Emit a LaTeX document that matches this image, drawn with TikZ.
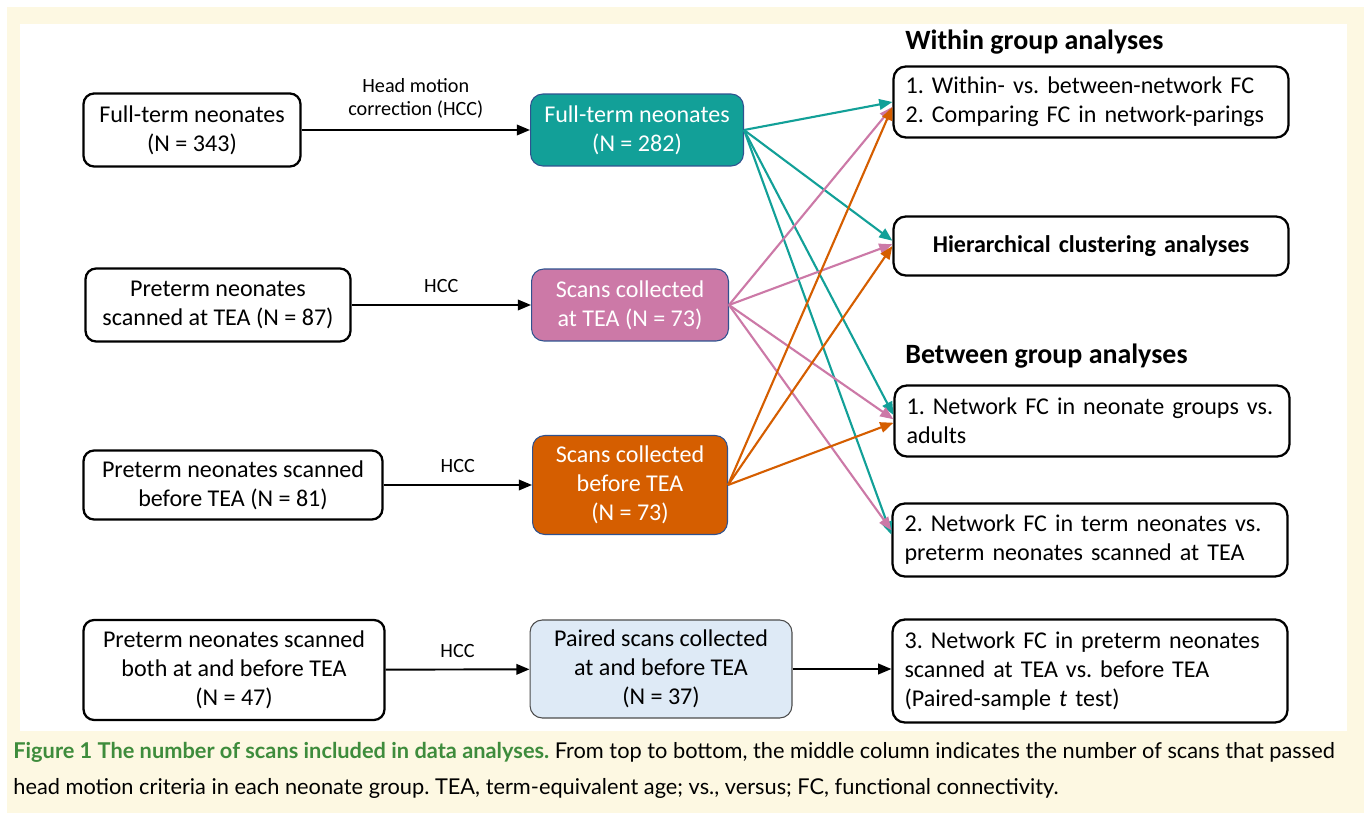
\documentclass[tikz,border=0pt]{standalone}
\usepackage{fontspec}
\setmainfont{Carlito}
\newfontfamily\captionfont{Lato}
\usetikzlibrary{arrows.meta}
\usetikzlibrary{positioning}
\frenchspacing

\definecolor{cream}{RGB}{253,248,226}
\definecolor{fullterm}{RGB}{18,160,152}
\definecolor{atTEA}{RGB}{204,121,167}
\definecolor{beforeTEA}{RGB}{213,94,0}
\definecolor{paired}{RGB}{222,234,246}
\definecolor{shapeline}{RGB}{47,82,143}
\definecolor{figgreen}{RGB}{62,140,60}

\tikzstyle{group} = [rectangle, rounded corners=6pt, draw=black, line width=1.3pt, align=center, inner sep=2pt, font=\fontsize{13.7}{16.5}\selectfont]
\tikzstyle{passed} = [rectangle, rounded corners=7pt, draw=shapeline, line width=0.6pt, align=center, text=white, inner sep=2pt, font=\fontsize{13.7}{16.5}\selectfont]
\tikzstyle{analysis} = [rectangle, rounded corners=7pt, draw=black, line width=1.3pt, inner xsep=0.24cm, text width=7.42cm, align=left, font=\fontsize{13.7}{16.5}\selectfont]
\tikzstyle{heading} = [anchor=west, inner sep=0pt, font=\bfseries\fontsize{15.9}{18}\selectfont]
\tikzstyle{hcc} = [-{Triangle[length=7.5pt,width=6pt]}, line width=1.1pt]
\tikzstyle{link} = [-{Triangle[length=7.5pt,width=6pt]}, line width=1.2pt]
\tikzstyle{step label} = [above=3pt, align=center, font=\fontsize{11.5}{13}\selectfont]

\begin{document}
\begin{tikzpicture}[x=0.02cm, y=-0.02cm]
\useasboundingbox (0,0) rectangle (1364,813);
\fill[cream] (7,7) rectangle (1364,813);
\fill[white] (20,24) rectangle (1347,731);

% neonate groups
\node (full) [group, minimum width=4.34cm, minimum height=1.46cm] at (192,130) {Full-term neonates\\(N = 343)};
\node (pretea) [group, minimum width=5.3cm, minimum height=1.46cm] at (218,305) {Preterm neonates\\scanned at TEA (N = 87)};
\node (prebefore) [group, minimum width=5.98cm, minimum height=1.38cm] at (233,485) {Preterm neonates scanned\\before TEA (N = 81)};
\node (preboth) [group, minimum width=6.02cm, minimum height=2cm] at (234,670) {Preterm neonates scanned\\both at and before TEA\\(N = 47)};

% scans that passed HCC
\node (fullscan) [passed, fill=fullterm, minimum width=4.26cm, minimum height=1.44cm] at (637,130) {Full-term neonates\\(N = 282)};
\node (teascan) [passed, fill=atTEA, minimum width=3.94cm, minimum height=1.44cm] at (630,305) {Scans collected\\at TEA (N = 73)};
\node (beforescan) [passed, fill=beforeTEA, minimum width=3.9cm, minimum height=1.98cm] at (630,485) {Scans collected\\before TEA\\(N = 73)};
\node (pairscan) [passed, fill=paired, draw=black!70, text=black, minimum width=5.24cm, minimum height=1.96cm] at (661,669) {Paired scans collected\\at and before TEA\\(N = 37)};

% analyses
\node (within) [heading] at (905,42) {Within group analyses};
\node (fcnet) [analysis, minimum height=1.42cm] at (1091,102) {1. Within- vs. between-network FC\\2. Comparing FC in network-parings};
\node (cluster) [analysis, align=center, minimum height=1.18cm, font=\bfseries\fontsize{13.7}{16.5}\selectfont] at (1091,246) {Hierarchical clustering analyses};
\node (between) [heading] at (905,356) {Between group analyses};
\node (adults) [analysis, minimum height=1.42cm] at (1092,421) {1. Network FC in neonate groups vs.\\adults};
\node (termpre) [analysis, minimum height=1.46cm] at (1090,540) {2. Network FC in term neonates vs.\\preterm neonates scanned at TEA};
\node (pairtest) [analysis, minimum height=2.06cm] at (1090,671) {3. Network FC in preterm neonates\\scanned at TEA vs. before TEA\\(Paired-sample \textit{t} test)};

% head motion correction
\draw[hcc] (full) -- node[step label] {Head motion\\correction (HCC)} (fullscan);
\draw[hcc] (pretea) -- node[step label] {HCC} (teascan);
\draw[hcc] (prebefore) -- node[step label] {HCC} (beforescan);
\draw[hcc] (preboth) -- node[step label] {HCC} (pairscan);
\draw[hcc] (pairscan) -- (pairscan -| pairtest.west);

% groups into analyses
\draw[link, fullterm] (fullscan.east) -- ([yshift=0pt]fcnet.west);
\draw[link, fullterm] (fullscan.east) -- ([yshift=3pt]cluster.west);
\draw[link, fullterm] (fullscan.east) -- ([yshift=3.4pt]adults.west);
\draw[link, fullterm] (fullscan.east) -- ([yshift=3pt]termpre.west);
\draw[link, atTEA] (teascan.east) -- ([yshift=-2.8pt]fcnet.west);
\draw[link, atTEA] (teascan.east) -- ([yshift=1pt]cluster.west);
\draw[link, atTEA] (teascan.east) -- ([yshift=1pt]adults.west);
\draw[link, atTEA] (teascan.east) -- ([yshift=5.5pt]termpre.west);
\draw[link, beforeTEA] (beforescan.east) -- ([yshift=-2.8pt]fcnet.west);
\draw[link, beforeTEA] (beforescan.east) -- ([yshift=0pt]cluster.west);
\draw[link, beforeTEA] (beforescan.east) -- ([yshift=-1pt]adults.west);

% caption
\node (caption) [anchor=west, align=left, inner sep=0pt, font=\captionfont\fontsize{12.4}{20.5}\selectfont] at (13,770) {\textcolor{figgreen}{\bfseries Figure 1 The number of scans included in data analyses.} From top to bottom, the middle column indicates the number of scans that passed\\head motion criteria in each neonate group. TEA, term-equivalent age; vs., versus; FC, functional connectivity.};
\end{tikzpicture}
\end{document}
